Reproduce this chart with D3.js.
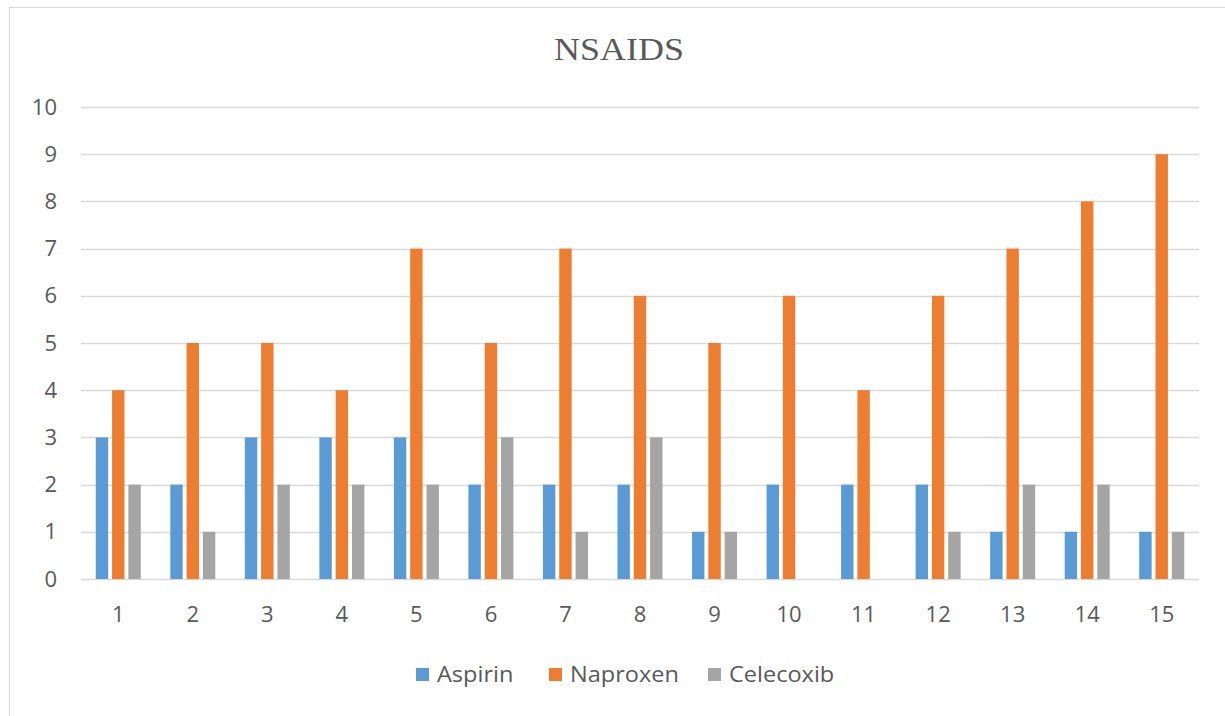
<!DOCTYPE html>
<html>
<head>
<meta charset="utf-8">
<script src="https://cdn.jsdelivr.net/npm/d3@7"></script>
<style>
  body { margin: 0; background: #fff; }
  svg { display: block; }
</style>
</head>
<body>
<svg id="chart"></svg>
<script>
// data
const categories = ["1","2","3","4","5","6","7","8","9","10","11","12","13","14","15"];
const seriesNames = ["Aspirin", "Naproxen", "Celecoxib"];
const aspirin   = [3,2,3,3,3,2,2,2,1,2,2,2,1,1,1];
const naproxen  = [4,5,5,4,7,5,7,6,5,6,4,6,7,8,9];
const celecoxib = [2,1,2,2,2,3,1,3,1,0,0,1,2,2,1];
const yTicks = [0,1,2,3,4,5,6,7,8,9,10];
const colors = ["#5B9BD5", "#ED7D31", "#A5A5A5"];

const seriesValues = [aspirin, naproxen, celecoxib];
const rows = categories.map((c, i) => ({
    cat: c,
    vals: seriesNames.map((s, j) => ({ name: s, value: seriesValues[j][i] }))
}));

const width = 1225, height = 716;
const svg = d3.select("#chart").attr("width", width).attr("height", height);

// 枠
svg.append("rect")
    .attr("x", 9.5).attr("y", 7.5)
    .attr("width", 1230).attr("height", 720)
    .attr("fill", "none").attr("stroke", "#D9D9D9");

const plot = { left: 81, right: 1199, top: 107, bottom: 579 };

const x0 = d3.scaleBand().domain(categories).range([plot.left, plot.right]);
const x1 = d3.scaleBand().domain(seriesNames)
    .range([x0.bandwidth() / 2 - 22.5, x0.bandwidth() / 2 + 22.5])
    .paddingInner(0.24);
const y = d3.scaleLinear().domain([0, 10]).range([plot.bottom, plot.top]);

const textColor = "#595959";
const labelFont = "'Open Sans', sans-serif";

// gridlines
svg.append("g")
    .selectAll("line")
    .data(yTicks)
    .join("line")
    .attr("x1", plot.left).attr("x2", plot.right)
    .attr("y1", d => Math.round(y(d)) + 0.5)
    .attr("y2", d => Math.round(y(d)) + 0.5)
    .attr("stroke", "#D9D9D9")
    .attr("stroke-width", 1.3);

// y axis labels
const yaxis = d3.axisLeft(y).tickValues(yTicks).tickSize(0).tickPadding(0);
const yg = svg.append("g").attr("transform", `translate(57,0)`).call(yaxis);
yg.select(".domain").remove();
yg.selectAll("text")
    .attr("fill", textColor)
    .style("font-family", labelFont)
    .style("font-size", "22px");

// x axis labels
const xaxis = d3.axisBottom(x0).tickSize(0).tickPadding(0);
const xg = svg.append("g").attr("transform", `translate(0,${plot.bottom + 27})`).call(xaxis);
xg.select(".domain").remove();
xg.selectAll("text")
    .attr("fill", textColor)
    .style("font-family", labelFont)
    .style("font-size", "22px");

// bars
svg.append("g")
    .selectAll("g")
    .data(rows)
    .join("g")
    .attr("transform", d => `translate(${x0(d.cat)},0)`)
    .selectAll("rect")
    .data(d => d.vals)
    .join("rect")
    .attr("x", d => x1(d.name))
    .attr("y", d => y(d.value))
    .attr("width", x1.bandwidth())
    .attr("height", d => y(0) - y(d.value))
    .attr("fill", (d, i) => colors[i]);

// title (横に少し伸ばす)
svg.append("text")
    .attr("transform", "translate(619,60) scale(1.16,1)")
    .attr("text-anchor", "middle")
    .attr("fill", textColor)
    .style("font-family", "'Liberation Serif', 'Times New Roman', serif")
    .style("font-size", "31px")
    .text("NSAIDS");

// legend
const legendX = [416, 549, 708];
const legend = svg.append("g")
    .selectAll("g")
    .data(seriesNames)
    .join("g")
    .attr("transform", (d, i) => `translate(${legendX[i]},668)`);
legend.append("rect")
    .attr("width", 13).attr("height", 13)
    .attr("fill", (d, i) => colors[i]);
legend.append("text")
    .attr("transform", "translate(21,14) scale(1.07,1)")
    .attr("fill", textColor)
    .style("font-family", labelFont)
    .style("font-size", "22px")
    .text(d => d);
</script>
</body>
</html>
